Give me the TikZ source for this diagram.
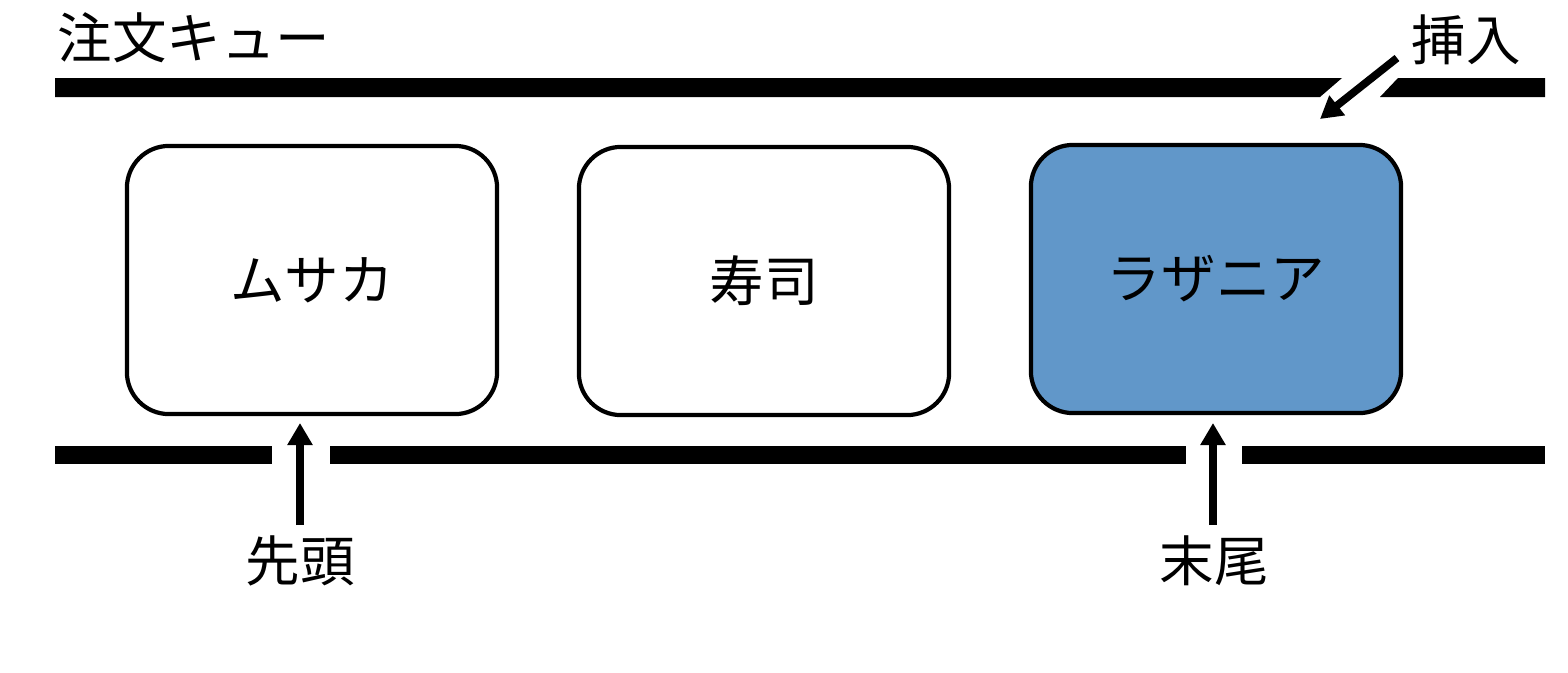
\documentclass[tikz,border=0pt]{standalone}
\usepackage{fontspec}
\setmainfont{Noto Sans CJK JP}
\usetikzlibrary{arrows.meta}
\definecolor{qblue}{HTML}{6197C9}
\tikzset{
  bar/.style={fill=black, draw=none},
  qbox/.style={draw=black, line width=1.2pt, rounded corners=0.42cm, minimum width=3.7cm, minimum height=2.68cm, font=\fontsize{15.5}{18}\selectfont},
  lbl/.style={font=\fontsize{15.5}{18}\selectfont, inner sep=0pt},
  ptr/.style={line width=2.2pt, -{Triangle[length=0.22cm,width=0.24cm]}}
}
\begin{document}
\begin{tikzpicture}[x=0.01cm,y=-0.01cm]
\useasboundingbox (0,0) rectangle (1568,672);
% top bar with slanted gap
\path[bar] (55,78) -- (1342,78) -- (1320,97) -- (55,97) -- cycle;
\path[bar] (1398,78) -- (1545,78) -- (1545,97) -- (1380,97) -- cycle;
% bottom bar
\path[bar] (55,446) rectangle (272,464);
\path[bar] (330,446) rectangle (1186,464);
\path[bar] (1242,446) rectangle (1545,464);
% title
\node[lbl] (title) at (194,38) {注文キュー};
% boxes
\node[qbox, fill=white] (b1) at (312,280) {ムサカ};
\node[qbox, fill=white] (b2) at (764,281) {寿司};
\node[qbox, fill=qblue] (b3) at (1216,279) {ラザニア};
% labels
\node[lbl] (head) at (300,561) {先頭};
\node[lbl] (tail) at (1214,561) {末尾};
\node[lbl] (ins) at (1466,40) {挿入};
% arrows
\coordinate (hs) at (300,525);
\coordinate (he) at (300,423);
\coordinate (ts) at (1213,525);
\coordinate (te) at (1213,423);
\coordinate (is) at (1397,58);
\coordinate (ie) at (1320,119);
\draw[ptr] (hs) -- (he);
\draw[ptr] (ts) -- (te);
\draw[ptr] (is) -- (ie);
\end{tikzpicture}
\end{document}
